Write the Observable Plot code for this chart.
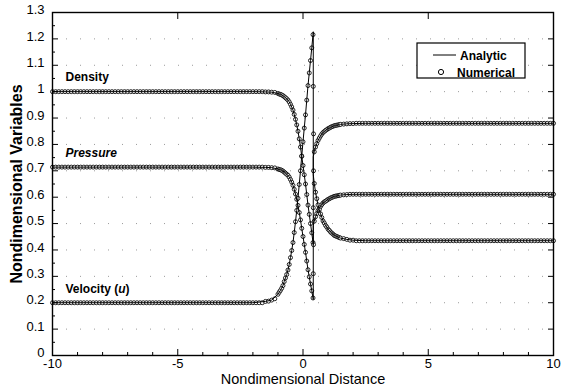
<!DOCTYPE html>
<html><head><meta charset="utf-8">
<script src="https://cdn.jsdelivr.net/npm/d3@7"></script>
<script src="https://cdn.jsdelivr.net/npm/@observablehq/plot@0.6"></script>
<style>
body{margin:0;background:#fff;}
#chart{width:563px;height:389px;}
</style></head><body><div id="chart"></div>
<script>
const FONT = "'Liberation Sans', Arial, Helvetica, sans-serif";

// ---- text ----
const seriesNames = ["Density", "Pressure", "Velocity (u)"];
const legendLabels = ["Analytic", "Numerical"];
const xTitle = "Nondimensional Distance";
const yTitle = "Nondimensional Variables";

// ---- ticks ----
const xTickValues = [-10, -5, 0, 5, 10];
const xMinorTicks = [-9, -8, -7, -6, -4, -3, -2, -1, 1, 2, 3, 4, 6, 7, 8, 9];
const yTickValues = [0, 0.1, 0.2, 0.3, 0.4, 0.5, 0.6, 0.7, 0.8, 0.9, 1, 1.1, 1.2, 1.3];
const yMinorTicks = [0.05, 0.15, 0.25, 0.35, 0.45, 0.55, 0.65, 0.75, 0.85, 0.95, 1.05, 1.15, 1.25];

// ---- analytic solution ----
const anaX = [-10, -2, -1.5, -1.25,
  -1, -0.95, -0.9, -0.85, -0.8, -0.75, -0.7, -0.65, -0.6, -0.55,
  -0.5, -0.45, -0.4, -0.35, -0.3, -0.25, -0.2, -0.15, -0.1, -0.05,
  0, 0.05, 0.1, 0.15, 0.2, 0.25, 0.3, 0.35, 0.4,
  0.41, 0.41,
  0.45, 0.5, 0.55, 0.6, 0.65, 0.7, 0.75, 0.8, 0.85, 0.9,
  0.95, 1, 1.05, 1.1, 1.15, 1.2, 1.25, 1.3, 1.35, 1.4,
  1.45, 1.5,
  1.75, 2, 2.5, 10];
const anaDensity = [1, 1, 0.999, 0.998,
  0.993, 0.991, 0.9895, 0.9875, 0.985, 0.981, 0.977, 0.973, 0.968, 0.961,
  0.952, 0.942, 0.930, 0.914, 0.895, 0.874, 0.850, 0.821, 0.790, 0.755,
  0.720, 0.685, 0.650, 0.610, 0.570, 0.535, 0.500, 0.465, 0.428,
  0.420, 0.753,
  0.772, 0.790, 0.803, 0.815, 0.824, 0.832, 0.839, 0.845, 0.849, 0.853,
  0.856, 0.860, 0.862, 0.865, 0.867, 0.869, 0.871, 0.872, 0.873, 0.874,
  0.875, 0.876,
  0.878, 0.879, 0.88, 0.88];
const anaPressure = [0.714, 0.714, 0.713, 0.712,
  0.707, 0.705, 0.704, 0.702, 0.699, 0.695, 0.691, 0.687, 0.683, 0.676,
  0.667, 0.657, 0.645, 0.630, 0.612, 0.592, 0.569, 0.542, 0.514, 0.482,
  0.451, 0.421, 0.391, 0.358, 0.325, 0.298, 0.271, 0.245, 0.218,
  0.212, 0.492,
  0.509, 0.526, 0.538, 0.549, 0.558, 0.565, 0.572, 0.578, 0.582, 0.585,
  0.588, 0.592, 0.594, 0.597, 0.599, 0.601, 0.603, 0.604, 0.605, 0.606,
  0.607, 0.608,
  0.610, 0.611, 0.611, 0.611];
const anaVelocity = [0.2, 0.2, 0.205, 0.210,
  0.232, 0.240, 0.247, 0.255, 0.265, 0.280, 0.294, 0.307, 0.324, 0.345,
  0.371, 0.398, 0.428, 0.466, 0.507, 0.550, 0.596, 0.648, 0.700, 0.756,
  0.810, 0.862, 0.912, 0.968, 1.023, 1.071, 1.118, 1.166, 1.216,
  1.227, 0.685,
  0.652, 0.619, 0.594, 0.571, 0.553, 0.537, 0.523, 0.510, 0.502, 0.493,
  0.487, 0.479, 0.474, 0.468, 0.464, 0.460, 0.455, 0.453, 0.451, 0.449,
  0.447, 0.445,
  0.440, 0.437, 0.435, 0.435];

// ---- numerical solution: uniform upstream / downstream levels ----
const plateauLeftX = [-10, -9.875, -9.75, -9.625, -9.5, -9.375, -9.25, -9.125, -9, -8.875, -8.75, -8.625,
  -8.5, -8.375, -8.25, -8.125, -8, -7.875, -7.75, -7.625, -7.5, -7.375, -7.25, -7.125, -7, -6.875, -6.75,
  -6.625, -6.5, -6.375, -6.25, -6.125, -6, -5.875, -5.75, -5.625, -5.5, -5.375, -5.25, -5.125, -5, -4.875,
  -4.75, -4.625, -4.5, -4.375, -4.25, -4.125, -4, -3.875, -3.75, -3.625, -3.5, -3.375, -3.25, -3.125, -3,
  -2.875, -2.75, -2.625, -2.5, -2.375, -2.25, -2.125, -2, -1.875, -1.75, -1.625];
const plateauRightX = [2.125, 2.25, 2.375, 2.5, 2.625, 2.75, 2.875, 3, 3.125, 3.25, 3.375, 3.5, 3.625, 3.75,
  3.875, 4, 4.125, 4.25, 4.375, 4.5, 4.625, 4.75, 4.875, 5, 5.125, 5.25, 5.375, 5.5, 5.625, 5.75, 5.875, 6,
  6.125, 6.25, 6.375, 6.5, 6.625, 6.75, 6.875, 7, 7.125, 7.25, 7.375, 7.5, 7.625, 7.75, 7.875, 8, 8.125,
  8.25, 8.375, 8.5, 8.625, 8.75, 8.875, 9, 9.125, 9.25, 9.375, 9.5, 9.625, 9.75, 9.875, 10];
const upstreamDensity = 1, upstreamPressure = 0.714, upstreamVelocity = 0.2;
const downstreamDensity = 0.88, downstreamPressure = 0.611, downstreamVelocity = 0.435;

// ---- numerical solution: transition zone ----
const numCoreX = [-1.5, -1.375, -1.25, -1.125,
  -1, -0.95, -0.9, -0.85, -0.8, -0.75, -0.7, -0.65, -0.6, -0.55,
  -0.5, -0.45, -0.4, -0.35, -0.3, -0.25, -0.2, -0.15, -0.1, -0.05,
  0, 0.05, 0.1, 0.15, 0.2, 0.25, 0.3, 0.35, 0.4,
  0.41, 0.42,
  0.45, 0.5, 0.55, 0.6, 0.65, 0.7, 0.75, 0.8, 0.85, 0.9,
  0.95, 1, 1.05, 1.1, 1.15, 1.2, 1.25, 1.3, 1.35, 1.4,
  1.45, 1.5,
  1.625, 1.75, 1.875, 2];
const numCoreDensity = [0.999, 0.999, 0.998, 0.997,
  0.993, 0.991, 0.9895, 0.9875, 0.985, 0.981, 0.977, 0.973, 0.968, 0.961,
  0.952, 0.942, 0.930, 0.914, 0.895, 0.874, 0.850, 0.821, 0.790, 0.755,
  0.720, 0.685, 0.650, 0.610, 0.570, 0.535, 0.500, 0.465, 0.428,
  0.56, 0.70,
  0.772, 0.790, 0.803, 0.815, 0.824, 0.832, 0.839, 0.845, 0.849, 0.853,
  0.856, 0.860, 0.862, 0.865, 0.867, 0.869, 0.871, 0.872, 0.873, 0.874,
  0.875, 0.876,
  0.877, 0.878, 0.879, 0.879];
const numCorePressure = [0.713, 0.713, 0.712, 0.711,
  0.707, 0.705, 0.704, 0.702, 0.699, 0.695, 0.691, 0.687, 0.683, 0.676,
  0.667, 0.657, 0.645, 0.630, 0.612, 0.592, 0.569, 0.542, 0.514, 0.482,
  0.451, 0.421, 0.391, 0.358, 0.325, 0.298, 0.271, 0.245, 0.218,
  0.31, 0.42,
  0.509, 0.526, 0.538, 0.549, 0.558, 0.565, 0.572, 0.578, 0.582, 0.585,
  0.588, 0.592, 0.594, 0.597, 0.599, 0.601, 0.603, 0.604, 0.605, 0.606,
  0.607, 0.608,
  0.609, 0.610, 0.611, 0.611];
const numCoreVelocity = [0.205, 0.206, 0.210, 0.215,
  0.232, 0.240, 0.247, 0.255, 0.265, 0.280, 0.294, 0.307, 0.324, 0.345,
  0.371, 0.398, 0.428, 0.466, 0.507, 0.550, 0.596, 0.648, 0.700, 0.756,
  0.810, 0.862, 0.912, 0.968, 1.023, 1.071, 1.118, 1.166, 1.216,
  1.02, 0.84,
  0.652, 0.619, 0.594, 0.571, 0.553, 0.537, 0.523, 0.510, 0.502, 0.493,
  0.487, 0.479, 0.474, 0.468, 0.464, 0.460, 0.455, 0.453, 0.451, 0.449,
  0.447, 0.445,
  0.443, 0.440, 0.437, 0.437];

// ---- build tables ----
const anaSeries = [anaDensity, anaPressure, anaVelocity];
const analyticRows = [];
anaSeries.forEach((vals, s) => anaX.forEach((x, i) => analyticRows.push({series: seriesNames[s], x, v: vals[i]})));

const upLevels = [upstreamDensity, upstreamPressure, upstreamVelocity];
const downLevels = [downstreamDensity, downstreamPressure, downstreamVelocity];
const coreSeries = [numCoreDensity, numCorePressure, numCoreVelocity];
const numericalRows = [];
seriesNames.forEach((name, s) => {
  plateauLeftX.forEach(x => numericalRows.push({series: name, x, v: upLevels[s]}));
  numCoreX.forEach((x, i) => numericalRows.push({series: name, x, v: coreSeries[s][i]}));
  plateauRightX.forEach(x => numericalRows.push({series: name, x, v: downLevels[s]}));
});
const labelRows = seriesNames.map((name, s) => ({label: name, v: upLevels[s]}));

const svg = Plot.plot({
  width: 563, height: 389,
  marginLeft: 52, marginRight: 10, marginTop: 12, marginBottom: 34,
  style: {fontFamily: FONT, fontSize: "14px", background: "white", color: "black"},
  x: {domain: [-10, 10], label: null},
  y: {domain: [0, 1.3], label: null},
  marks: [
    Plot.gridY(yTickValues, {stroke: "#000", strokeOpacity: 0.4, strokeDasharray: "1,13"}),
    Plot.dot(numericalRows, {x: "x", y: "v", r: 2, stroke: "black", fill: "white", strokeWidth: 0.85}),
    Plot.line(analyticRows, {x: "x", y: "v", z: "series", stroke: "black", strokeWidth: 1}),
    Plot.frame({stroke: "black", strokeWidth: 1.4}),
    // y: inward ticks, then labels
    Plot.axisY(yTickValues, {tickSize: -6, tickFormat: () => "", label: null}),
    Plot.axisY(yTickValues, {tickSize: 0, tickPadding: 8, dy: -2.5, tickFormat: d => String(d), label: null, fontSize: 13}),
    Plot.axisY(yMinorTicks, {tickSize: -3, tickFormat: () => "", label: null}),
    Plot.axisY(yTickValues, {anchor: "right", tickSize: -6, tickFormat: () => "", label: null}),
    // x: inward ticks and labels
    Plot.axisX(xTickValues, {tickSize: -6, tickPadding: 9, tickFormat: d => String(d), label: null, fontSize: 13}),
    Plot.axisX(xMinorTicks, {tickSize: -3, tickFormat: () => "", label: null}),
    Plot.axisX(xTickValues, {anchor: "top", tickSize: -6, tickFormat: () => "", label: null}),
    Plot.text(labelRows, {y: "v", frameAnchor: "left", dx: 13, dy: -14, textAnchor: "start", text: "label", fontWeight: "bold", fontSize: 12}),
    Plot.text([yTitle], {frameAnchor: "left", dx: -36, rotate: -90, textAnchor: "middle", text: d => d, fontWeight: "bold", fontSize: 16}),
    Plot.text([xTitle], {frameAnchor: "bottom", dy: 28.5, text: d => d, fontSize: 14.5})
  ]
});

const root = d3.select(svg);
root.selectAll("text").filter(function(){ return this.textContent === seriesNames[2]; }).each(function(){
  const t = d3.select(this); t.text(null);
  t.append("tspan").text("Velocity (");
  t.append("tspan").attr("font-style", "italic").text("u");
  t.append("tspan").text(")");
});
root.selectAll("text").filter(function(){ return this.textContent === seriesNames[1]; }).attr("font-style", "italic");

// legend inside the plot
const g = root.append("g").attr("font-family", FONT).attr("font-weight", "bold").attr("font-size", 12).attr("text-anchor", "start");
g.append("rect").attr("x", 417).attr("y", 43).attr("width", 108).attr("height", 35)
  .attr("fill", "white").attr("stroke", "black").attr("stroke-width", 1.2);
g.append("line").attr("x1", 433).attr("x2", 456).attr("y1", 55).attr("y2", 55).attr("stroke", "black").attr("stroke-width", 1);
g.append("text").attr("x", 460).attr("y", 59.5).text(legendLabels[0]);
g.append("circle").attr("cx", 441).attr("cy", 72).attr("r", 2.6).attr("fill", "white").attr("stroke", "black").attr("stroke-width", 1);
g.append("text").attr("x", 457).attr("y", 76.5).text(legendLabels[1]);

document.getElementById("chart").appendChild(svg);
</script></body></html>
